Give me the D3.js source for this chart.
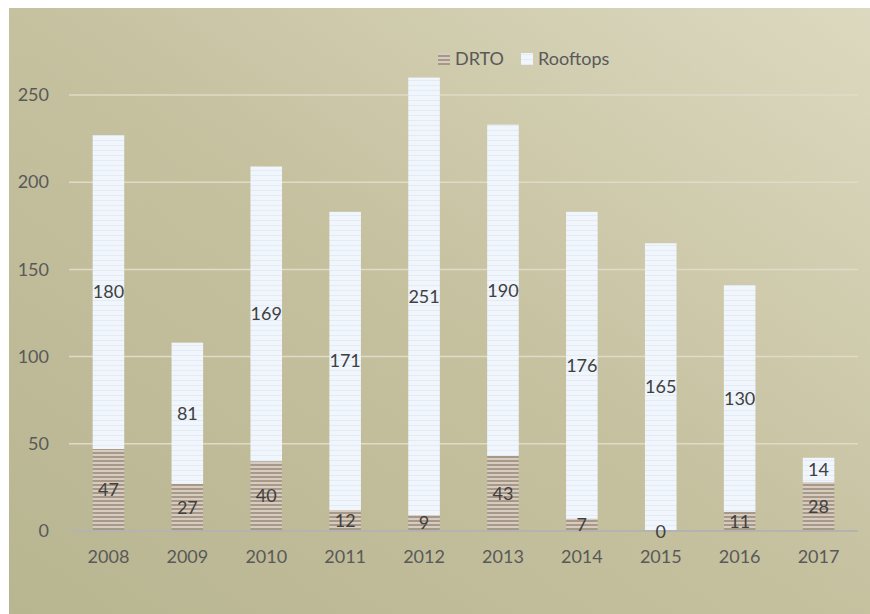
<!DOCTYPE html>
<html>
<head>
<meta charset="utf-8">
<script src="https://cdn.jsdelivr.net/npm/d3@7"></script>
<style>
  html, body { margin: 0; padding: 0; background: #ffffff; }
  svg { display: block; }
  text { font-family: Lato, "Open Sans", sans-serif; }
</style>
</head>
<body>
<svg id="chart" width="870" height="614"></svg>
<script>
// Yearly counts, split by source
const years = ["2008", "2009", "2010", "2011", "2012", "2013", "2014", "2015", "2016", "2017"];
const drto = [47, 27, 40, 12, 9, 43, 7, 0, 11, 28];
const rooftops = [180, 81, 169, 171, 251, 190, 176, 165, 130, 14];
const seriesNames = ["DRTO", "Rooftops"];
const yTicks = [0, 50, 100, 150, 200, 250];

const svg = d3.select("#chart");
const W = 870, H = 614;
const FONT = "Lato, 'Open Sans', sans-serif";

const defs = svg.append("defs");

// khaki backdrop, lighter toward the upper right
const bg = defs.append("linearGradient").attr("id", "bg")
  .attr("x1", "0").attr("y1", "1").attr("x2", "1").attr("y2", "0");
bg.append("stop").attr("offset", "0").attr("stop-color", "#b8b58f");
bg.append("stop").attr("offset", "0.5").attr("stop-color", "#c6c19e");
bg.append("stop").attr("offset", "1").attr("stop-color", "#dfdbc1");

// fine grain over the backdrop
const grain = defs.append("filter").attr("id", "grain").attr("x", 0).attr("y", 0).attr("width", 1).attr("height", 1);
grain.append("feTurbulence").attr("type", "fractalNoise").attr("baseFrequency", 0.9).attr("numOctaves", 2).attr("seed", 3).attr("result", "n");
grain.append("feColorMatrix").attr("in", "n").attr("type", "matrix")
  .attr("values", "0 0 0 0 0.5  0 0 0 0 0.5  0 0 0 0 0.45  0 0 0 0.12 0");

// striped fills for the two series
const pDrto = defs.append("pattern").attr("id", "pDrto").attr("patternUnits", "userSpaceOnUse")
  .attr("width", 8).attr("height", 4);
pDrto.append("rect").attr("width", 8).attr("height", 4).attr("fill", "#d6ccc0");
pDrto.append("rect").attr("y", 0).attr("width", 8).attr("height", 2).attr("fill", "#a89887");

const pRoof = defs.append("pattern").attr("id", "pRoof").attr("patternUnits", "userSpaceOnUse")
  .attr("width", 8).attr("height", 5);
pRoof.append("rect").attr("width", 8).attr("height", 5).attr("fill", "#f1f6fd");
pRoof.append("rect").attr("y", 0).attr("width", 8).attr("height", 1).attr("fill", "#e3ebf7");

svg.append("rect").attr("width", W).attr("height", H).attr("fill", "#ffffff");
svg.append("rect").attr("x", 9).attr("y", 8).attr("width", W - 9).attr("height", H - 8).attr("fill", "url(#bg)");
svg.append("rect").attr("x", 9).attr("y", 8).attr("width", W - 9).attr("height", H - 8).attr("filter", "url(#grain)").attr("fill", "#000");

const x = d3.scaleBand().domain(years).range([69, 858]).paddingInner(0.6).paddingOuter(0.3);
const y = d3.scaleLinear().domain([0, 250]).range([531, 95]);

// gridlines
svg.append("g").selectAll("line").data(yTicks.filter(t => t > 0)).join("line")
  .attr("x1", 69).attr("x2", 858)
  .attr("y1", d => y(d)).attr("y2", d => y(d))
  .attr("stroke", "#dedbc9").attr("stroke-width", 1.5);

// y tick labels
const yAxis = d3.axisLeft(y).tickValues(yTicks).tickSize(0).tickPadding(0);
const gy = svg.append("g").attr("transform", "translate(49,0)").call(yAxis);
gy.select(".domain").remove();
gy.selectAll("text").attr("fill", "#595959").attr("font-size", 18).attr("font-family", FONT);

const rows = years.map((yr, i) => ({ year: yr, DRTO: drto[i], Rooftops: rooftops[i] }));
const stacked = d3.stack().keys(seriesNames)(rows);
const fills = { DRTO: "url(#pDrto)", Rooftops: "url(#pRoof)" };

const gBars = svg.append("g");
stacked.forEach(layer => {
  gBars.append("g").selectAll("rect").data(layer).join("rect")
    .attr("x", d => x(d.data.year))
    .attr("width", x.bandwidth())
    .attr("y", d => y(d[1]))
    .attr("height", d => y(d[0]) - y(d[1]))
    .attr("fill", fills[layer.key]);
});

// baseline
svg.append("line").attr("x1", 69).attr("x2", 858).attr("y1", y(0)).attr("y2", y(0))
  .attr("stroke", "#b3b3b0").attr("stroke-width", 2);

// value labels centred in each segment
stacked.forEach(layer => {
  svg.append("g").selectAll("text").data(layer).join("text")
    .attr("x", d => x(d.data.year) + x.bandwidth() / 2)
    .attr("y", d => layer.key === "DRTO" && d.data.DRTO === 0 ? y(0) + 1 : (y(d[0]) + y(d[1])) / 2)
    .attr("dy", "0.35em")
    .attr("text-anchor", "middle")
    .attr("font-size", 18)
    .attr("fill", "#404040")
    .text(d => d.data[layer.key]);
});

// x tick labels
const xAxis = d3.axisBottom(x).tickSize(0).tickPadding(0);
const gx = svg.append("g").attr("transform", "translate(0,550)").call(xAxis);
gx.select(".domain").remove();
gx.selectAll("text").attr("fill", "#595959").attr("font-size", 18).attr("font-family", FONT);

// legend
const legend = svg.append("g").attr("transform", "translate(0,59)");
const legendItems = [
  { key: "DRTO", x: 438, textX: 455 },
  { key: "Rooftops", x: 521, textX: 538 }
];
legendItems.forEach(it => {
  legend.append("rect").attr("x", it.x).attr("y", -6).attr("width", 12).attr("height", 12)
    .attr("fill", fills[it.key]);
  legend.append("text").attr("x", it.textX).attr("y", 0).attr("dy", "0.35em")
    .attr("font-size", 18).attr("fill", "#595959").text(it.key);
});
</script>
</body>
</html>
